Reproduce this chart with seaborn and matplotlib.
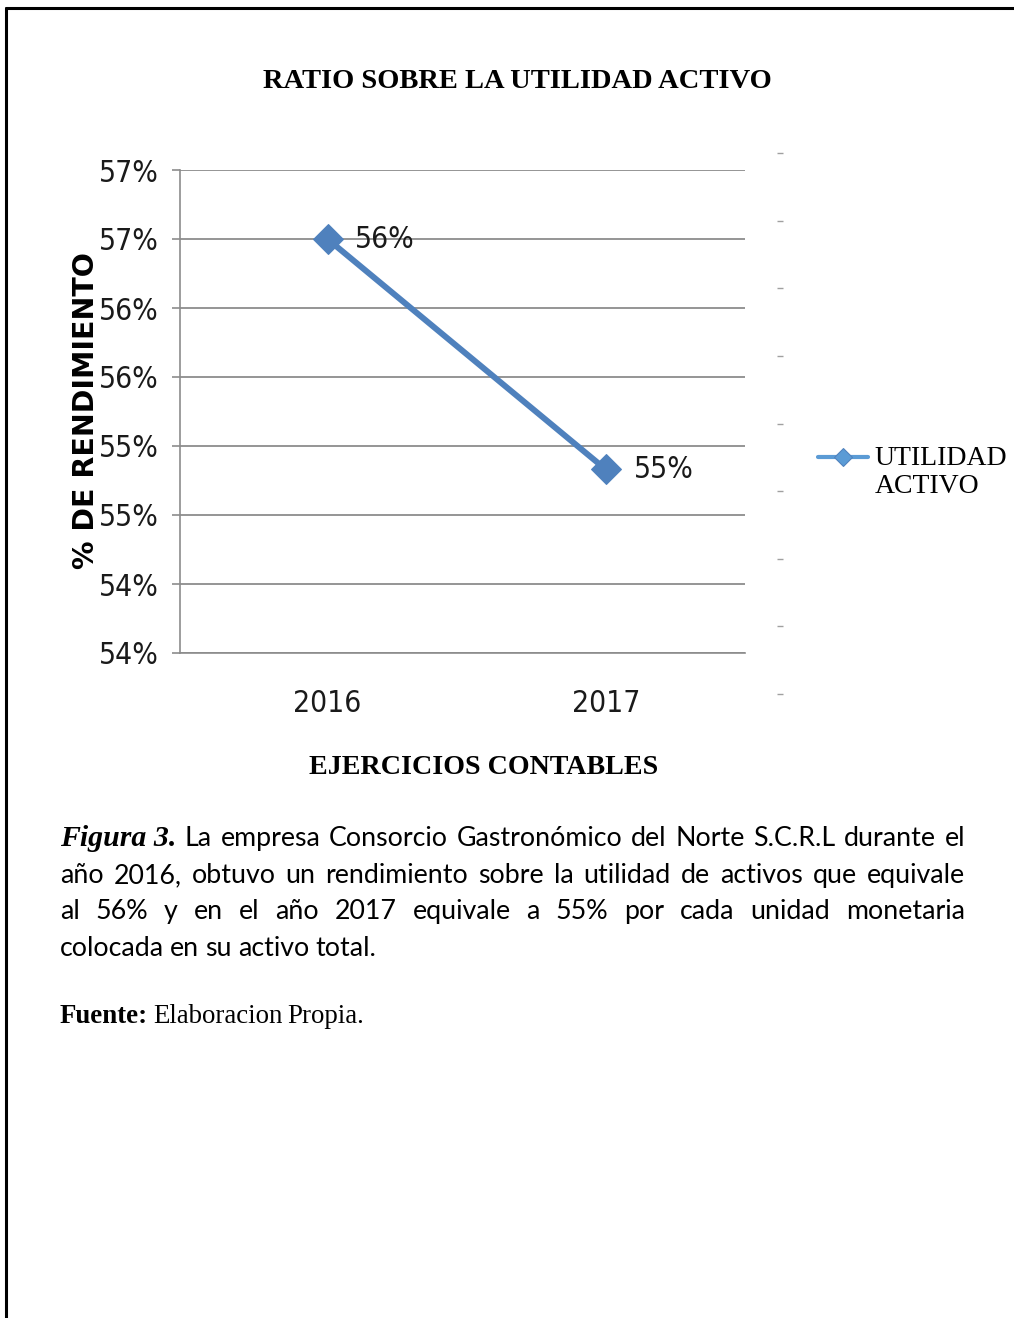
import numpy as np
import pandas as pd
import matplotlib
matplotlib.use("Agg")
import matplotlib.pyplot as plt
from matplotlib.lines import Line2D
import seaborn as sns

# %%
# data
years = ["2016", "2017"]
utilidad_activo = [0.570, 0.5533]
point_labels = ["56%", "55%"]
ytick_vals = [0.540, 0.545, 0.550, 0.555, 0.560, 0.565, 0.570, 0.575]
ytick_labels = ["54%", "54%", "55%", "55%", "56%", "56%", "57%", "57%"]

title = "RATIO SOBRE LA UTILIDAD ACTIVO"
ylabel = "% DE RENDIMIENTO"
xlabel = "EJERCICIOS CONTABLES"
series_name = "UTILIDAD\nACTIVO"

caption_lead = "Figura 3."
caption_lines = [
    "La empresa Consorcio Gastronómico del Norte S.C.R.L durante el",
    "año 2016, obtuvo un rendimiento sobre la utilidad de activos que equivale",
    "al 56% y en el año 2017 equivale a 55% por cada unidad monetaria",
    "colocada en su activo total.",
]
source_lead = "Fuente:"
source_text = "Elaboracion Propia."

# %%
sns.set_style("white")
plt.rcParams["font.family"] = ["DejaVu Sans"]
plt.rcParams["font.stretch"] = "condensed"   # narrow look of the tick labels
plt.rcParams["text.color"] = "black"
plt.rcParams["axes.labelcolor"] = "black"

W, H = 1014, 1318
fig = plt.figure(figsize=(W / 100, H / 100), dpi=100)

def fx(px):
    return px / W

def fy(py):
    return 1 - py / H

ax = fig.add_axes([fx(180), fy(653), fx(745) - fx(180), fy(170) - fy(653)])

line_color = "#4F81BD"
grid_color = "#8C8C8C"

df = pd.DataFrame({"year": years, "value": utilidad_activo})
sns.lineplot(data=df, x="year", y="value", ax=ax, color=line_color, linewidth=4.3,
             marker="D", markersize=15, markeredgecolor=line_color, sort=False,
             label=series_name, legend=False)

# data labels
for i, (v, lab) in enumerate(zip(utilidad_activo, point_labels)):
    ax.annotate(lab, (i, v), xytext=(20, 0), textcoords="offset points",
                va="center", ha="left", fontsize=21.5, color="#1a1a1a")

ax.set_xlim(-0.53, 1.5)
ax.set_ylim(ytick_vals[0], ytick_vals[-1])
ax.set_yticks(ytick_vals)
ax.set_yticklabels(ytick_labels, fontsize=21.5, color="#1a1a1a")
ax.set_xticks(range(len(years)))
ax.set_xticklabels(years, fontsize=21.5, color="#1a1a1a")
ax.tick_params(axis="y", length=6, width=1.2, color=grid_color, pad=9, left=True)
ax.tick_params(axis="x", length=0, pad=26)
ax.yaxis.grid(True, color=grid_color, linewidth=1.3)
ax.xaxis.grid(False)
for s in ["top", "right"]:
    ax.spines[s].set_visible(False)
for s in ["left", "bottom"]:
    ax.spines[s].set_color(grid_color)
    ax.spines[s].set_linewidth(1.2)

ax.set_xlabel(xlabel, fontsize=20.2, fontweight="bold", family="Liberation Serif",
              stretch="normal", va="center", color="black")
ax.xaxis.set_label_coords((484 - 180) / 565, (653 - 768) / 483)
ax.set_ylabel(ylabel, fontsize=20.5, fontweight="bold", family="DejaVu Sans",
              stretch="normal", va="center", color="black")
ax.yaxis.set_label_coords((86 - 180) / 565, (653 - 411) / 483)

fig.text(fx(517), fy(81), title, ha="center", va="center", fontsize=20.5,
         fontweight="bold", family="Liberation Serif", stretch="normal")

# legend on the right
handles, labels = ax.get_legend_handles_labels()
leg = fig.legend(handles, labels, loc="center left", bbox_to_anchor=(fx(818), fy(475)),
                 frameon=False, handlelength=1.8, handletextpad=0.25, handleheight=4.5,
                 borderpad=0, borderaxespad=0,
                 prop={"family": "Liberation Serif", "size": 20, "stretch": "normal"})
for h in leg.legend_handles:
    h.set_markersize(9)
    h.set_linewidth(3)
    h.set_color("#5B9BD5")

# small grey dashes to the right of the plot
ax2 = fig.add_axes([fx(783), fy(694), 0.0001, fy(153) - fy(694)])
ax2.set_ylim(0, 8)
ax2.set_yticks(range(9))
ax2.set_yticklabels([])
ax2.set_xticks([])
ax2.tick_params(axis="y", length=4, width=1, color="#A0A0A0", left=True)
for s in ax2.spines.values():
    s.set_visible(False)
ax2.patch.set_alpha(0)

# page border (top and left)
fig.add_artist(Line2D([fx(6), 1], [fy(8), fy(8)], color="black", linewidth=2.2))
fig.add_artist(Line2D([fx(6), fx(6)], [fy(8), 0], color="black", linewidth=2.2))

# %%
# caption, justified between x=60 and x=965
renderer = fig.canvas.get_renderer()
body = dict(family="Lato", fontsize=19.3, color="black", va="baseline", stretch="normal")
lead = dict(family="Liberation Serif", fontsize=21.5, fontweight="bold", style="italic",
            color="black", va="baseline", stretch="normal")

def place_line(words, x0, x1, ybase, justify, space=6):
    texts = [fig.text(0, fy(ybase), w, **kw) for w, kw in words]
    widths = [t.get_window_extent(renderer).width for t in texts]
    gap = (x1 - x0 - sum(widths)) / (len(texts) - 1) if justify else space
    x = x0
    for t, w in zip(texts, widths):
        t.set_x(fx(x))
        x += w + gap

baselines = [846, 883, 919, 956]
for i, line in enumerate(caption_lines):
    words = [(w, body) for w in line.split()]
    if i == 0:
        words = [(caption_lead, lead)] + words
    place_line(words, 60, 965, baselines[i], justify=(i < len(caption_lines) - 1))

src_bold = dict(family="Liberation Serif", fontsize=19.4, fontweight="bold", color="black",
                va="baseline", stretch="normal")
src_reg = dict(family="Liberation Serif", fontsize=19.4, color="black", va="baseline",
               stretch="normal")
place_line([(source_lead, src_bold)] + [(w, src_reg) for w in source_text.split()],
           60, 965, 1023, justify=False, space=5)

fig.savefig("out.png", dpi=100)
